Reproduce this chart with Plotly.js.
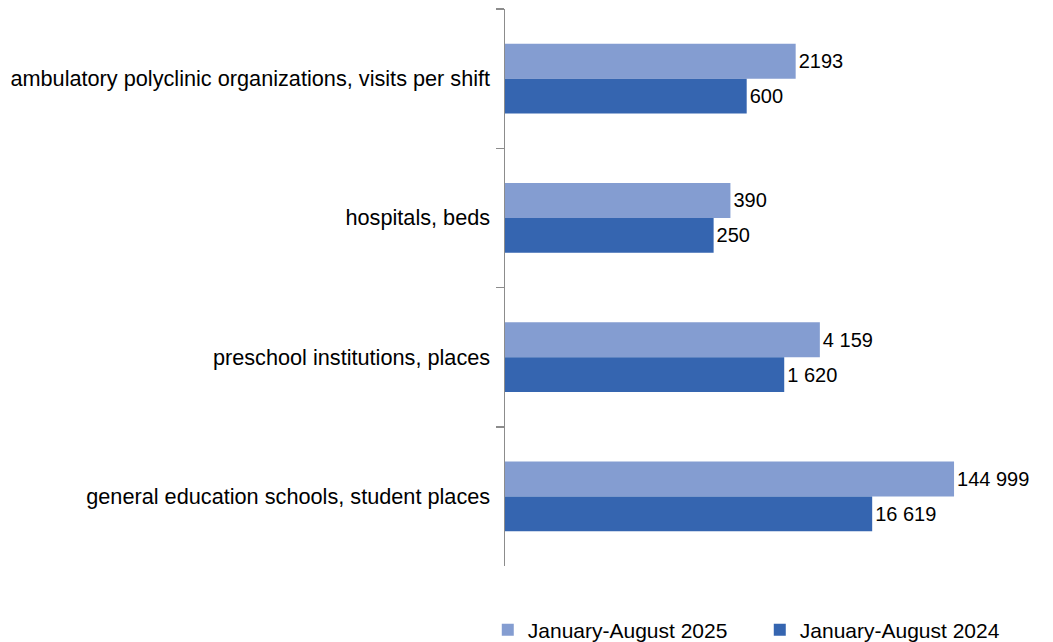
<!DOCTYPE html>
<html>
<head>
<meta charset="utf-8">
<script src="https://cdn.plot.ly/plotly-3.0.1.min.js"></script>
<style>
html,body{margin:0;padding:0;background:#fff;}
#chart{width:1053px;height:642px;}
</style>
</head>
<body>
<div id="chart"></div>
<script>
var categories = [
  "ambulatory polyclinic organizations, visits per shift",
  "hospitals, beds",
  "preschool institutions, places",
  "general education schools, student places"
];
var seriesNames = ["January-August 2025", "January-August 2024"];
var values2025 = [2193, 390, 4159, 144999];
var values2024 = [600, 250, 1620, 16619];
var labels2025 = ["2193", "390", "4 159", "144 999"];
var labels2024 = ["600", "250", "1 620", "16 619"];

var FONT = "Liberation Sans, Arial, sans-serif";

var traces = [
  {
    type: "bar", orientation: "h", name: seriesNames[0],
    y: categories, x: values2025, text: labels2025,
    textposition: "outside", cliponaxis: false,
    textfont: {family: FONT, size: 20, color: "#000"},
    marker: {color: "#849dd1", line: {width: 0}},
    hoverinfo: "x+y"
  },
  {
    type: "bar", orientation: "h", name: seriesNames[1],
    y: categories, x: values2024, text: labels2024,
    textposition: "outside", cliponaxis: false,
    textfont: {family: FONT, size: 20, color: "#000"},
    marker: {color: "#3565b0", line: {width: 0}},
    hoverinfo: "x+y"
  }
];

var layout = {
  width: 1053, height: 642,
  margin: {l: 505, r: 26, t: 9, b: 76, pad: 0, autoexpand: false},
  paper_bgcolor: "#fff", plot_bgcolor: "#fff",
  barmode: "group", bargap: 0.5, bargroupgap: 0,
  font: {family: FONT, size: 21, color: "#000"},
  showlegend: true,
  legend: {
    orientation: "h", x: -0.033, xanchor: "left", y: -0.115, yanchor: "middle",
    font: {family: FONT, size: 21, color: "#000"},
    entrywidth: 227, entrywidthmode: "pixels",
    traceorder: "normal"
  },
  xaxis: {
    type: "log", range: [0, 6], visible: false, showgrid: false, zeroline: false, fixedrange: true
  },
  yaxis: {
    type: "category", autorange: "reversed",
    showline: true, linecolor: "#8c8c8c", linewidth: 1.5,
    ticks: "outside", tickson: "boundaries", ticklen: 8, tickcolor: "#8c8c8c", tickwidth: 1.5,
    ticklabelstandoff: 9,
    showgrid: false, zeroline: false,
    tickfont: {family: FONT, size: 21.7, color: "#000"}
  }
};

Plotly.newPlot("chart", traces, layout, {displayModeBar: false, staticPlot: true});
</script>
</body>
</html>
